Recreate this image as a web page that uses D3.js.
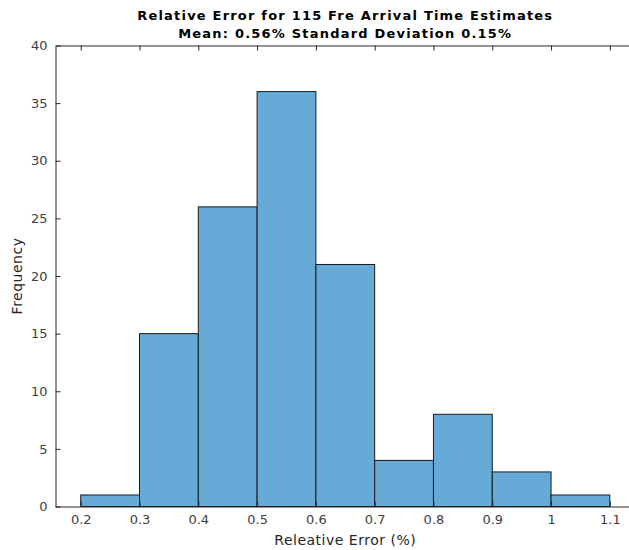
<!DOCTYPE html>
<html>
<head>
<meta charset="utf-8">
<script src="https://cdn.jsdelivr.net/npm/d3@7"></script>
<style>
  body { margin: 0; background: #fff; }
  svg { display: block; }
  text { font-family: "DejaVu Sans", sans-serif; }
</style>
</head>
<body>
<svg id="chart" width="629" height="550"></svg>
<script>
// Histogram bins: edges and counts
const binStarts = [0.2, 0.3, 0.4, 0.5, 0.6, 0.7, 0.8, 0.9, 1.0];
const binWidth = 0.1;
const counts = [1, 15, 26, 36, 21, 4, 8, 3, 1];
const xTicks = [0.2, 0.3, 0.4, 0.5, 0.6, 0.7, 0.8, 0.9, 1.0, 1.1];
const yTicks = [0, 5, 10, 15, 20, 25, 30, 35, 40];
const titleLines = ["Relative Error for 115 Fre Arrival Time Estimates",
                    "Mean: 0.56% Standard Deviation 0.15%"];
const xLabel = "Releative Error (%)";
const yLabel = "Frequency";

const svg = d3.select("#chart");
const plotLeft = 55.5, plotRight = 635, plotTop = 45.5, plotBottom = 506.5;

const x = d3.scaleLinear().domain([0.1571, 1.1428]).range([plotLeft, plotRight]);
const y = d3.scaleLinear().domain([0, 40]).range([plotBottom, plotTop]);

const axisColor = "#262626";
const fill = "#66aad7";

// bars
svg.append("g").selectAll("rect")
  .data(binStarts.map((s, i) => ({ s, c: counts[i] })))
  .join("rect")
  .attr("x", d => x(d.s))
  .attr("width", d => x(d.s + binWidth) - x(d.s))
  .attr("y", d => y(d.c))
  .attr("height", d => y(0) - y(d.c))
  .attr("fill", fill)
  .attr("stroke", "#1a1a1a")
  .attr("stroke-width", 1);

const fmt = d => d3.format("~g")(d);

// bottom axis (ticks point inward)
const gx = svg.append("g").attr("transform", `translate(0,${plotBottom})`)
  .call(d3.axisBottom(x).tickValues(xTicks).tickFormat(fmt).tickSizeInner(-5).tickSizeOuter(0).tickPadding(8));
// top axis (ticks only)
const gxt = svg.append("g").attr("transform", `translate(0,${plotTop})`)
  .call(d3.axisTop(x).tickValues(xTicks).tickFormat("").tickSizeInner(-5).tickSizeOuter(0));
// left axis
const gy = svg.append("g").attr("transform", `translate(${plotLeft},0)`)
  .call(d3.axisLeft(y).tickValues(yTicks).tickSizeInner(-5).tickSizeOuter(0).tickPadding(8));

[gx, gxt, gy].forEach(g => {
  g.select(".domain").attr("stroke", axisColor).attr("stroke-width", 1);
  g.selectAll(".tick line").attr("stroke", axisColor);
  g.selectAll(".tick text").attr("fill", "#404040")
    .style("font-family", "DejaVu Sans, sans-serif").style("font-size", "13px");
});

// titles
svg.append("g").selectAll("text")
  .data(titleLines)
  .join("text")
  .attr("x", (plotLeft + plotRight) / 2)
  .attr("y", (d, i) => 19.5 + i * 18)
  .attr("text-anchor", "middle")
  .attr("font-weight", "bold")
  .attr("font-size", "13px")
  .attr("letter-spacing", "1.2px")
  .attr("fill", "#000")
  .text(d => d);

svg.append("text")
  .attr("x", (plotLeft + plotRight) / 2)
  .attr("y", 545)
  .attr("text-anchor", "middle")
  .attr("font-size", "14px")
  .attr("letter-spacing", "0.5px")
  .attr("fill", axisColor)
  .text(xLabel);

svg.append("text")
  .attr("transform", `translate(22,${(plotTop + plotBottom) / 2}) rotate(-90)`)
  .attr("text-anchor", "middle")
  .attr("font-size", "14px")
  .attr("letter-spacing", "0.5px")
  .attr("fill", axisColor)
  .text(yLabel);
</script>
</body>
</html>
